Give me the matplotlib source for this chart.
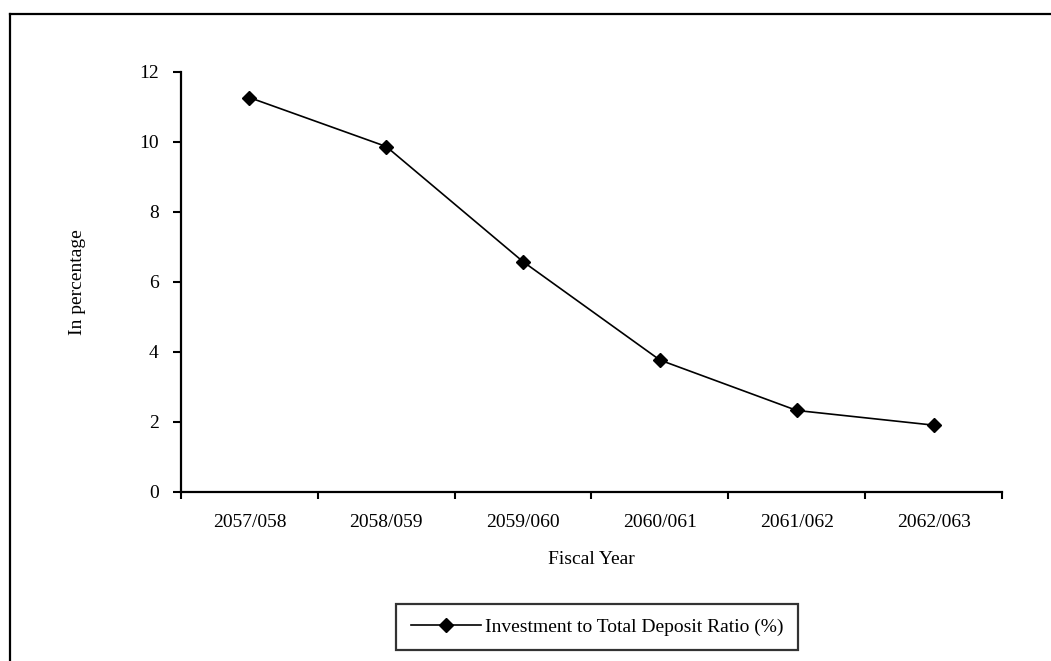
import matplotlib
matplotlib.use("Agg")
import matplotlib.pyplot as plt
from matplotlib.lines import Line2D

# Fiscal years and the ratio of investment to total deposits (%)
fiscal_years = ["2057/058", "2058/059", "2059/060", "2060/061", "2061/062", "2062/063"]
ratio_values = [11.27, 9.87, 6.58, 3.77, 2.33, 1.91]
y_ticks = [0, 2, 4, 6, 8, 10, 12]
series_label = "Investment to Total Deposit Ratio (%)"

plt.rcParams["font.family"] = ["Liberation Serif", "DejaVu Serif"]
FS = 14

W, H = 1051, 661
fig = plt.figure(figsize=(W / 100, H / 100), dpi=100)
fig.patch.set_facecolor("white")

# chart frame (top and left edges)
fig.add_artist(Line2D([10 / W, 1.0], [1 - 14 / H, 1 - 14 / H], color="black", lw=1.6,
                      transform=fig.transFigure))
fig.add_artist(Line2D([10 / W, 10 / W], [0, 1 - 14 / H], color="black", lw=1.6,
                      transform=fig.transFigure))

left, right, top, bottom = 181, 1002, 72, 492
ax = fig.add_axes([left / W, 1 - bottom / H, (right - left) / W, (bottom - top) / H])

x = list(range(len(fiscal_years)))
ax.plot(x, ratio_values, color="black", lw=1.2, marker="D", markersize=7,
        markerfacecolor="black", markeredgecolor="black", label=series_label)

ax.set_xlim(-0.5, len(fiscal_years) - 0.5)
ax.set_ylim(0, 12)
ax.set_yticks(y_ticks)
ax.set_yticklabels([str(v) for v in y_ticks], fontsize=FS)

# major ticks sit between categories, labels centred via minor ticks
ax.set_xticks([i - 0.5 for i in range(len(fiscal_years) + 1)])
ax.set_xticklabels([])
ax.set_xticks(x, minor=True)
ax.set_xticklabels(fiscal_years, minor=True, fontsize=FS)
ax.tick_params(axis="x", which="minor", length=0, pad=16)
ax.tick_params(axis="x", which="major", direction="out", length=5, width=1.5)
ax.tick_params(axis="y", direction="out", length=6, width=1.5, pad=10)

for s in ["top", "right"]:
    ax.spines[s].set_visible(False)
for s in ["left", "bottom"]:
    ax.spines[s].set_linewidth(1.6)

ax.set_xlabel("Fiscal Year", fontsize=FS, labelpad=14)
ax.set_ylabel("In percentage", fontsize=FS, labelpad=38)

leg = fig.legend(loc="center", bbox_to_anchor=(597 / W, 1 - 627 / H), fontsize=FS,
                 frameon=True, fancybox=False, edgecolor="black", handlelength=3.6,
                 handletextpad=0.2, borderpad=0.75)
leg.get_frame().set_linewidth(1.6)

fig.savefig("out.png", dpi=100, facecolor="white")
